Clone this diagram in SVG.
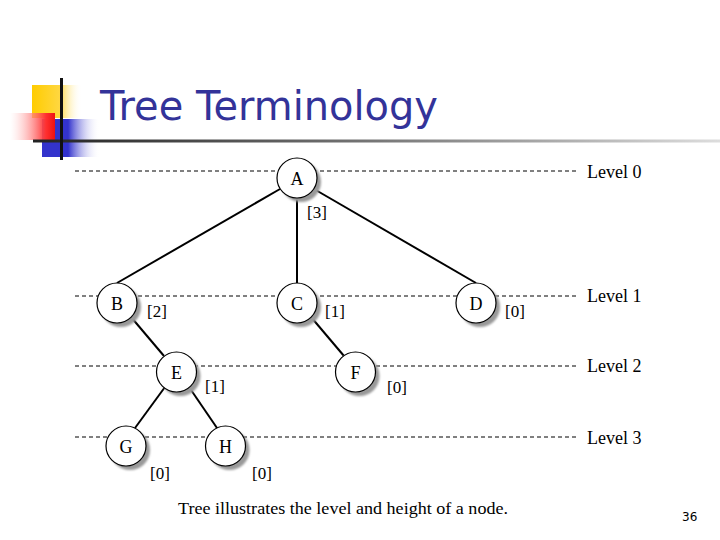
<svg xmlns="http://www.w3.org/2000/svg" width="720" height="540" viewBox="0 0 720 540">
<defs>
<linearGradient id="gy" x1="0" y1="0" x2="1" y2="0"><stop offset="0" stop-color="#ffcc00"/><stop offset="0.55" stop-color="#ffd740"/><stop offset="1" stop-color="#ffffff" stop-opacity="0"/></linearGradient>
<linearGradient id="gr" x1="0" y1="0" x2="1" y2="0"><stop offset="0" stop-color="#ffffff" stop-opacity="0.3"/><stop offset="0.8" stop-color="#ff3030"/><stop offset="1" stop-color="#ee1111"/></linearGradient>
<linearGradient id="gb" x1="0" y1="0" x2="1" y2="0"><stop offset="0" stop-color="#3333cc"/><stop offset="0.45" stop-color="#3333cc"/><stop offset="1" stop-color="#ffffff" stop-opacity="0"/></linearGradient>
<linearGradient id="gl" x1="0" y1="0" x2="1" y2="0"><stop offset="0" stop-color="#222222"/><stop offset="0.5" stop-color="#777777"/><stop offset="1" stop-color="#dddddd"/></linearGradient>
<filter id="bl" x="-20%" y="-20%" width="140%" height="140%"><feGaussianBlur stdDeviation="1.2"/></filter>
</defs>
<style>
.lvl{stroke:#000;stroke-width:1;stroke-dasharray:4,3;fill:none}
.edge{stroke:#000;stroke-width:2;fill:none}
.sh{fill:#999;filter:url(#bl)}
.nd{fill:#fff;stroke:#000;stroke-width:1.2}
.t{font-family:"Liberation Serif",serif;font-size:18px;fill:#000}
.lb{font-family:"Liberation Serif",serif;font-size:17px;fill:#000}
.lv{font-family:"Liberation Serif",serif;font-size:18px;fill:#000}
</style>
<rect width="720" height="540" fill="#fff"/>
<g id="decor">
<rect x="32" y="85" width="50" height="33" fill="url(#gy)"/>
<rect x="42" y="119" width="58" height="38" fill="url(#gb)"/>
<rect x="10" y="113" width="45" height="27" fill="url(#gr)"/>
<rect x="33" y="139.5" width="687" height="3" fill="url(#gl)"/>
<rect x="60" y="78" width="3" height="82" fill="#111"/>
</g>
<text id="title" x="100" y="120" font-family="'DejaVu Sans',Verdana,sans-serif" font-size="40" fill="#333399" textLength="338" lengthAdjust="spacingAndGlyphs">Tree Terminology</text>
<g id="levels">
<line class="lvl" x1="75" y1="171" x2="578" y2="171"/>
<line class="lvl" x1="75" y1="296" x2="578" y2="296"/>
<line class="lvl" x1="75" y1="366" x2="578" y2="366"/>
<line class="lvl" x1="75" y1="437" x2="578" y2="437"/>
<text class="lv" x="587" y="178">Level 0</text>
<text class="lv" x="587" y="302">Level 1</text>
<text class="lv" x="587" y="372">Level 2</text>
<text class="lv" x="587" y="444">Level 3</text>
</g>
<g id="connectors">
<line class="edge" x1="280" y1="189" x2="117" y2="283"/>
<line class="edge" x1="297" y1="198" x2="297" y2="283"/>
<line class="edge" x1="314" y1="189" x2="476" y2="283"/>
<line class="edge" x1="131" y1="317" x2="164" y2="356"/>
<line class="edge" x1="311" y1="317" x2="344" y2="356"/>
<line class="edge" x1="165" y1="387" x2="135" y2="428"/>
<line class="edge" x1="189" y1="387" x2="217" y2="428"/>
</g>
<g id="nodeA"><circle class="sh" cx="301" cy="182" r="20"/><circle class="nd" cx="297" cy="178" r="20"/><text class="t" x="297" y="185" text-anchor="middle">A</text><text class="lb" x="307" y="218">[3]</text></g>
<g id="nodeB"><circle class="sh" cx="121" cy="307" r="20"/><circle class="nd" cx="117" cy="303" r="20"/><text class="t" x="117" y="310" text-anchor="middle">B</text><text class="lb" x="147" y="317">[2]</text></g>
<g id="nodeC"><circle class="sh" cx="301" cy="307" r="20"/><circle class="nd" cx="297" cy="303" r="20"/><text class="t" x="297" y="310" text-anchor="middle">C</text><text class="lb" x="325" y="317">[1]</text></g>
<g id="nodeD"><circle class="sh" cx="480" cy="307" r="20"/><circle class="nd" cx="476" cy="303" r="20"/><text class="t" x="476" y="310" text-anchor="middle">D</text><text class="lb" x="505" y="317">[0]</text></g>
<g id="nodeE"><circle class="sh" cx="180.5" cy="376" r="20"/><circle class="nd" cx="176.5" cy="372" r="20"/><text class="t" x="176.5" y="379" text-anchor="middle">E</text><text class="lb" x="205" y="392">[1]</text></g>
<g id="nodeF"><circle class="sh" cx="359.5" cy="376" r="20"/><circle class="nd" cx="355.5" cy="372" r="20"/><text class="t" x="355.5" y="379" text-anchor="middle">F</text><text class="lb" x="387" y="393">[0]</text></g>
<g id="nodeG"><circle class="sh" cx="130" cy="450" r="20"/><circle class="nd" cx="126" cy="446" r="20"/><text class="t" x="126" y="453" text-anchor="middle">G</text><text class="lb" x="150" y="479">[0]</text></g>
<g id="nodeH"><circle class="sh" cx="229.5" cy="450" r="20"/><circle class="nd" cx="225.5" cy="446" r="20"/><text class="t" x="225.5" y="453" text-anchor="middle">H</text><text class="lb" x="252" y="479">[0]</text></g>
<text id="caption" x="178" y="514" font-family="'Liberation Serif',serif" font-size="17" fill="#000" textLength="330" lengthAdjust="spacingAndGlyphs">Tree illustrates the level and height of a node.</text>
<text id="page" x="682" y="521" font-family="'DejaVu Sans',Verdana,sans-serif" font-size="12" fill="#000">36</text>
</svg>
